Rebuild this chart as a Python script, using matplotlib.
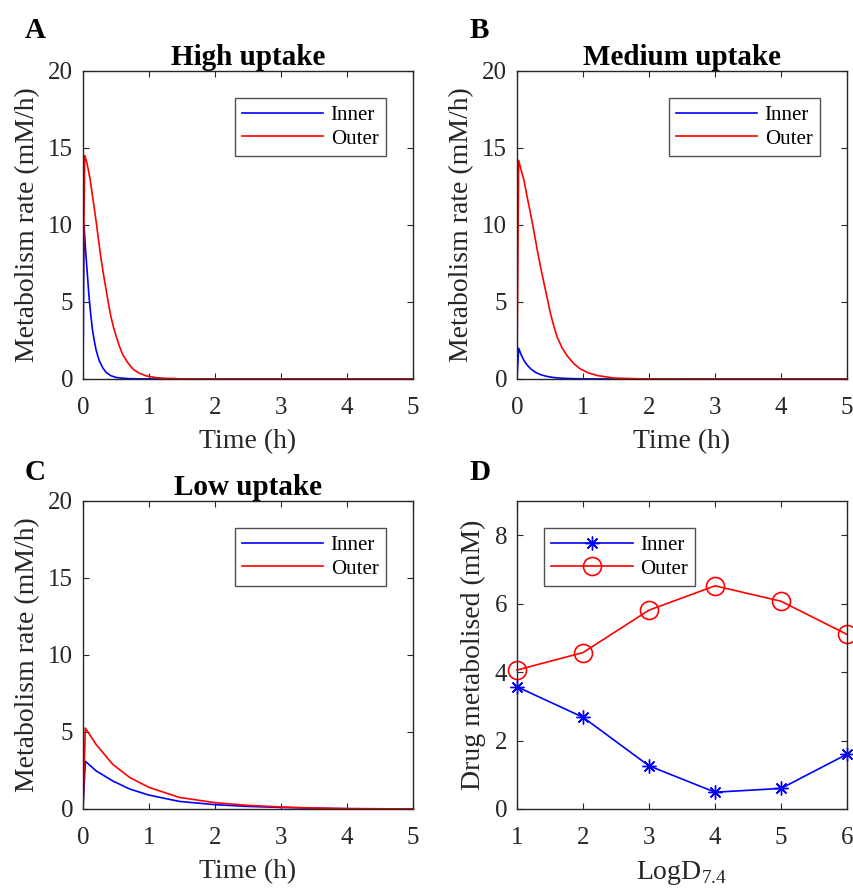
import matplotlib
matplotlib.use("Agg")
import matplotlib.pyplot as plt
import numpy as np

plt.rcParams['font.family'] = ['Liberation Serif', 'DejaVu Serif']
plt.rcParams['mathtext.fontset'] = 'custom'
plt.rcParams['mathtext.rm'] = 'Liberation Serif'

DARK = '#262626'

# panel A: high uptake (time in h, rate in mM/h)
t_high_in = [0, 0.015, 0.04, 0.066, 0.09, 0.117, 0.14, 0.17, 0.2, 0.245, 0.3, 0.35, 0.42, 0.5, 0.6, 0.7, 0.9, 1.2, 2, 3, 4, 5]
high_inner = [0, 10.0, 8.3, 6.8, 5.4, 4.2, 3.3, 2.5, 1.85, 1.2, 0.72, 0.43, 0.22, 0.1, 0.05, 0.02, 0.005, 0, 0, 0, 0, 0]
t_high_out = [0, 0.026, 0.05, 0.08, 0.11, 0.14, 0.17, 0.2, 0.23, 0.27, 0.31, 0.35, 0.39, 0.42, 0.46, 0.5, 0.55, 0.6,
              0.68, 0.755, 0.85, 0.96, 1.1, 1.25, 1.5, 2, 3, 4, 5]
high_outer = [5.2, 14.5, 14.2, 13.6, 12.9, 12.0, 11.1, 10.2, 9.2, 7.9, 6.8, 5.8, 4.8, 4.1, 3.4, 2.8, 2.15, 1.6,
              1.05, 0.65, 0.38, 0.2, 0.09, 0.04, 0.01, 0, 0, 0, 0]

# panel B: medium uptake
t_med_in = [0, 0.025, 0.06, 0.106, 0.15, 0.21, 0.28, 0.36, 0.45, 0.56, 0.7, 0.86, 1.1, 2, 3, 4, 5]
med_inner = [0, 2.0, 1.6, 1.2, 0.92, 0.65, 0.43, 0.28, 0.17, 0.09, 0.045, 0.02, 0.005, 0, 0, 0, 0]
t_med_out = [0, 0.025, 0.06, 0.106, 0.15, 0.207, 0.26, 0.31, 0.36, 0.41, 0.46, 0.51, 0.56, 0.61, 0.68, 0.76, 0.86,
             0.96, 1.08, 1.22, 1.47, 1.87, 3, 4, 5]
med_outer = [0.6, 14.2, 13.6, 12.9, 11.9, 10.7, 9.5, 8.3, 7.2, 6.2, 5.2, 4.2, 3.4, 2.7, 2.05, 1.5, 1.0,
             0.65, 0.4, 0.22, 0.06, 0.01, 0, 0, 0]

# panel C: low uptake
t_low = [0, 0.035, 0.2, 0.45, 0.71, 1.0, 1.46, 2.0, 2.47, 3.0, 3.5, 4.0, 4.5, 5.0]
low_inner = [0, 3.1, 2.47, 1.82, 1.29, 0.9, 0.49, 0.28, 0.17, 0.1, 0.05, 0.02, 0.01, 0.005]
low_outer = [0, 5.25, 4.18, 2.9, 2.04, 1.4, 0.75, 0.41, 0.24, 0.13, 0.06, 0.02, 0.01, 0.005]

# panel D: total drug metabolised vs LogD7.4
logd = [1, 2, 3, 4, 5, 6]
drug_inner = [3.57, 2.68, 1.26, 0.49, 0.60, 1.60]
drug_outer = [4.06, 4.57, 5.81, 6.52, 6.07, 5.10]

fig = plt.figure(figsize=(8.54, 8.93), dpi=100)

W, H = 0.3864, 0.3449
positions = {
    'A': [0.0972, 0.5756, W, H],
    'B': [0.6054, 0.5756, W, H],
    'C': [0.0972, 0.0941, W, H],
    'D': [0.6054, 0.0941, W, H],
}


def style_axes(ax):
    for sp in ax.spines.values():
        sp.set_color(DARK)
        sp.set_linewidth(1.0)
    ax.tick_params(direction='in', top=True, right=True, length=4, width=0.8,
                   colors=DARK, labelsize=18, labelcolor=DARK)
    ax.tick_params(axis='x', pad=13)
    ax.tick_params(axis='y', pad=7)


def legend(ax, loc):
    leg = ax.legend(loc=loc, fontsize=15, frameon=True, fancybox=False,
                    edgecolor=DARK, handlelength=3.9, handletextpad=0.35,
                    borderaxespad=1.3, borderpad=0.35, labelspacing=0.2)
    leg.get_frame().set_linewidth(1.0)


panels = [
    ('A', 'High uptake', t_high_in, high_inner, t_high_out, high_outer),
    ('B', 'Medium uptake', t_med_in, med_inner, t_med_out, med_outer),
    ('C', 'Low uptake', t_low, low_inner, t_low, low_outer),
]

for key, title, ti, yi, to, yo in panels:
    ax = fig.add_axes(positions[key])
    ax.plot(ti, yi, color='blue', lw=1.2, label='Inner')
    ax.plot(to, yo, color='red', lw=1.2, label='Outer')
    ax.set_xlim(0, 5)
    ax.set_ylim(0, 20)
    ax.set_xticks([0, 1, 2, 3, 4, 5])
    ax.set_yticks([0, 5, 10, 15, 20])
    style_axes(ax)
    ax.set_xlabel('Time (h)', fontsize=20, color=DARK, labelpad=7)
    ax.set_ylabel('Metabolism rate (mM/h)', fontsize=20, color=DARK, labelpad=6)
    ax.set_title(title, fontsize=21, fontweight='bold', pad=4)
    legend(ax, 'upper right')

ax = fig.add_axes(positions['D'])
ax.plot(logd, drug_inner, color='blue', lw=1.2, marker=(8, 2, 0), ms=10,
        mew=1.0, label='Inner', clip_on=False)
ax.plot(logd, drug_outer, color='red', lw=1.2, marker='o', ms=13, mfc='none',
        mew=1.2, label='Outer', clip_on=False)
ax.set_xlim(1, 6)
ax.set_ylim(0, 9)
ax.set_xticks([1, 2, 3, 4, 5, 6])
ax.set_yticks([0, 2, 4, 6, 8])
style_axes(ax)
ax.set_xlabel(r'LogD$_{\mathregular{7.4}}$', fontsize=20, color=DARK, labelpad=7)
ax.set_ylabel('Drug metabolised (mM)', fontsize=20, color=DARK, labelpad=6)
legend(ax, 'upper left')

# panel letters
for key, (x, y) in {'A': (0.029, 0.958), 'B': (0.55, 0.958),
                    'C': (0.029, 0.462), 'D': (0.55, 0.462)}.items():
    fig.text(x, y, key, fontsize=21, fontweight='bold', ha='left', va='baseline')

fig.savefig('out.png', dpi=100)
